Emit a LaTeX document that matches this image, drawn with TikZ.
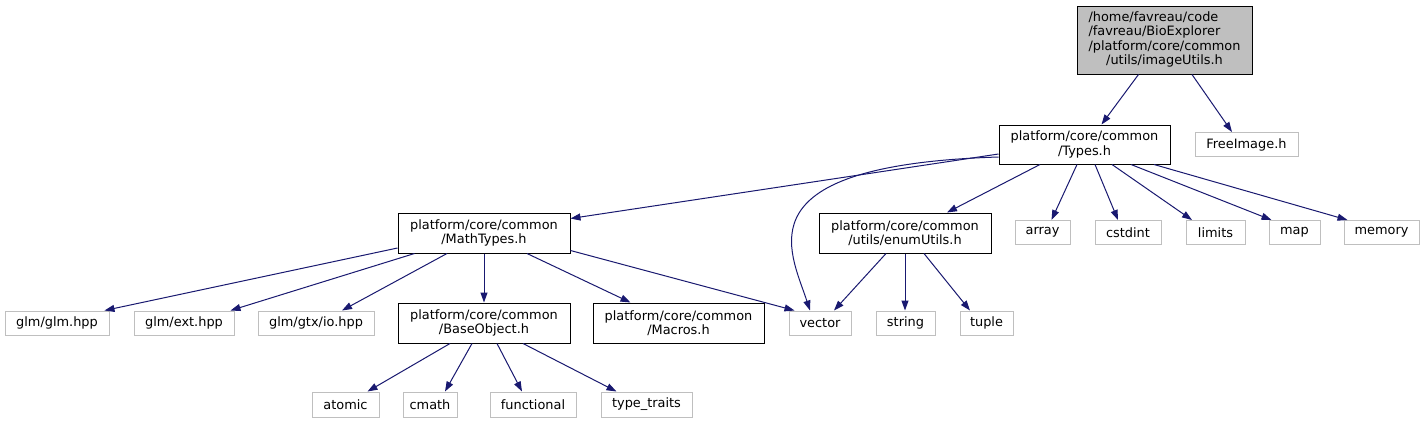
\documentclass[tikz,border=0pt]{standalone}
\usepackage{fontspec}
\setmainfont{DejaVu Sans}
\usetikzlibrary{arrows.meta}
\definecolor{edgeblue}{HTML}{191970}
\definecolor{extgray}{HTML}{BFBFBF}
\definecolor{rootfill}{HTML}{BFBFBF}
\begin{document}
\begin{tikzpicture}[x=1pt,y=-1pt,
  lbl/.style={font=\fontsize{12.9}{14.5}\selectfont, inner sep=0pt, align=center},
  docbox/.style={lbl, draw=black, line width=1pt, fill=white, minimum height=40pt},
  extbox/.style={lbl, draw=extgray, line width=1pt, fill=white, minimum height=24pt},
  dep/.style={draw=edgeblue, line width=1pt, -{Triangle[length=10pt,width=7pt]}}
]
\useasboundingbox[fill=white] (0,0) rectangle (1425,424);

% nodes
\node[lbl, draw=black, line width=1pt, fill=rootfill, minimum width=175pt, minimum height=68pt] (root) at (1164.5,40)
  {\begin{tabular}{@{}l@{}}/home/favreau/code\\/favreau/BioExplorer\\/platform/core/common\\\multicolumn{1}{@{}c@{}}{/utils/imageUtils.h}\end{tabular}};
\node[docbox, minimum width=171pt, minimum height=39pt] (types) at (1084.5,144.5) {platform/core/common\\/Types.h};
\node[extbox, minimum width=103pt] (free) at (1246.5,144.5) {FreeImage.h};

\node[docbox, minimum width=172pt] (math) at (484,233) {platform/core/common\\/MathTypes.h};
\node[docbox, minimum width=172pt] (enum) at (905,233) {platform/core/common\\/utils/enumUtils.h};
\node[extbox, minimum width=55pt] (array) at (1042.5,232.5) {array};
\node[extbox, minimum width=66pt] (cstdint) at (1128,232.5) {cstdint};
\node[extbox, minimum width=59pt] (limits) at (1215.5,232.5) {limits};
\node[extbox, minimum width=51pt] (map) at (1294.5,232.5) {map};
\node[extbox, minimum width=75pt] (memory) at (1381.5,232.5) {memory};

\node[extbox, minimum width=104pt] (glm) at (57,323) {glm/glm.hpp};
\node[extbox, minimum width=100pt] (ext) at (184,323) {glm/ext.hpp};
\node[extbox, minimum width=116pt] (io) at (316,323) {glm/gtx/io.hpp};
\node[docbox, minimum width=172pt] (base) at (484,323) {platform/core/common\\/BaseObject.h};
\node[docbox, minimum width=171pt] (macros) at (678.5,323) {platform/core/common\\/Macros.h};
\node[extbox, minimum width=62pt] (vector) at (820,323) {vector};
\node[extbox, minimum width=59pt] (string) at (905.5,323) {string};
\node[extbox, minimum width=53pt] (tuple) at (986.5,323) {tuple};

\node[extbox, minimum width=67pt, minimum height=25pt] (atomic) at (345.5,404.5) {atomic};
\node[extbox, minimum width=54pt, minimum height=25pt] (cmath) at (430,404.5) {cmath};
\node[extbox, minimum width=86pt, minimum height=25pt] (functional) at (533,404.5) {functional};
\node[extbox, minimum width=91pt, minimum height=25pt] (traits) at (646.5,404.5) {type\_traits};

% edges
\draw[dep] ([xshift=-26]root.south) -- ([xshift=17]types.north);
\draw[dep] ([xshift=27.5]root.south) -- ([xshift=-14.5]free.north);

\draw[dep] ([yshift=-9.5]types.west) -- ([yshift=-6]math.north east);
\draw[dep] ([yshift=-12.5]types.west) .. controls +(-259,8) and +(-20,-61) .. ([xshift=-10]vector.north);
\draw[dep] ([xshift=-44.5]types.south) -- ([xshift=42]enum.north);
\draw[dep] ([xshift=-7.5]types.south) -- ([xshift=9]array.north);
\draw[dep] ([xshift=10.5]types.south) -- ([xshift=-10]cstdint.north);
\draw[dep] ([xshift=27.5]types.south) -- ([xshift=-23.5]limits.north);
\draw[dep] ([xshift=46.5]types.south) -- ([xshift=3]map.north west);
\draw[dep] ([xshift=69.5]types.south) -- ([xshift=4]memory.north west);

\draw[dep] ([yshift=-15]math.west) -- ([xshift=-5]glm.north east);
\draw[dep] ([xshift=17]math.south west) -- ([xshift=-4]ext.north east);
\draw[dep] ([xshift=-37]math.south) -- ([xshift=26]io.north);
\draw[dep] (math.south) -- (base.north);
\draw[dep] ([xshift=43]math.south) -- ([xshift=-48]macros.north);
\draw[dep] ([yshift=3]math.south east) -- ([xshift=6]vector.north west);

\draw[dep] ([xshift=-19]enum.south) -- ([xshift=14]vector.north);
\draw[dep] (enum.south) -- (enum.south |- string.north);
\draw[dep] ([xshift=19]enum.south) -- ([xshift=-16.5]tuple.north);

\draw[dep] ([xshift=-34]base.south) -- ([xshift=22]atomic.north);
\draw[dep] ([xshift=-12]base.south) -- ([xshift=15]cmath.north);
\draw[dep] ([xshift=13]base.south) -- ([xshift=-11]functional.north);
\draw[dep] ([xshift=39]base.south) -- ([xshift=-30]traits.north);
\end{tikzpicture}
\end{document}
